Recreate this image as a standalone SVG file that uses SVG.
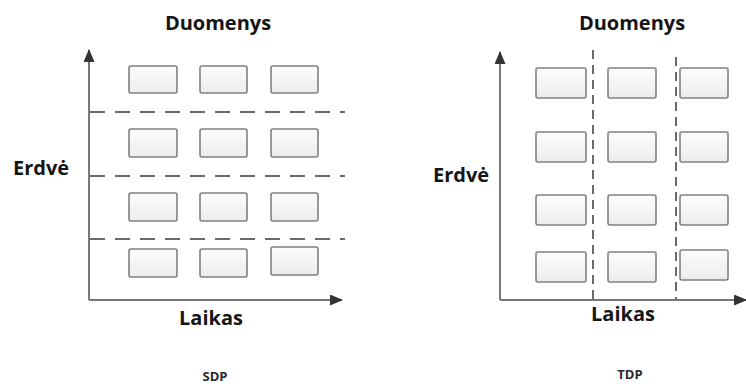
<svg xmlns="http://www.w3.org/2000/svg" width="746" height="386" viewBox="0 0 746 386">
  <defs>
    <linearGradient id="boxFill" x1="0" y1="0" x2="0" y2="1">
      <stop offset="0" stop-color="#fdfdfd"/>
      <stop offset="1" stop-color="#ececec"/>
    </linearGradient>
    <marker id="arrow" viewBox="0 0 13 11" refX="12" refY="5.5" markerWidth="13" markerHeight="11" markerUnits="userSpaceOnUse" orient="auto">
      <path d="M0,0 L13,5.5 L0,11 Z" fill="#333"/>
    </marker>
  </defs>
  <style>
    .box { fill: url(#boxFill); stroke: #808080; stroke-width: 1.6; }
    .axis { stroke: #777; stroke-width: 2; fill: none; }
    .hdash { stroke: #6a6a6a; stroke-width: 2; stroke-dasharray: 15 10; fill: none; }
    .vdash { stroke: #6a6a6a; stroke-width: 2; stroke-dasharray: 9 6; fill: none; }
    .label { font-family: "Open Sans", "Liberation Sans", sans-serif; font-weight: 700; font-size: 20px; fill: #151515; }
    .caption { font-family: "Open Sans", "Liberation Sans", sans-serif; font-weight: 700; font-size: 13px; fill: #2a2a2a; }
  </style>
  <rect width="746" height="386" fill="#fff"/>

  <!-- SDP: spatial partitioning -->
  <g id="sdp">
    <g id="sdp-axes" class="connectors">
      <line class="axis" x1="89" y1="300" x2="89" y2="50" marker-end="url(#arrow)"/>
      <line class="axis" x1="89" y1="300" x2="342" y2="300" marker-end="url(#arrow)"/>
      <line class="hdash" x1="90" y1="112" x2="345" y2="112"/>
      <line class="hdash" x1="90" y1="176" x2="345" y2="176"/>
      <line class="hdash" x1="90" y1="239" x2="345" y2="239"/>
    </g>
    <g id="sdp-boxes">
      <g id="sdp-r1">
        <rect class="box" x="129" y="66" width="48" height="27" rx="2"/>
        <rect class="box" x="200" y="66" width="47" height="27" rx="2"/>
        <rect class="box" x="271" y="66" width="47" height="27" rx="2"/>
      </g>
      <g id="sdp-r2">
        <rect class="box" x="129" y="129" width="48" height="28" rx="2"/>
        <rect class="box" x="200" y="129" width="47" height="28" rx="2"/>
        <rect class="box" x="271" y="129" width="47" height="28" rx="2"/>
      </g>
      <g id="sdp-r3">
        <rect class="box" x="129" y="193" width="48" height="28" rx="2"/>
        <rect class="box" x="200" y="193" width="47" height="28" rx="2"/>
        <rect class="box" x="271" y="193" width="47" height="28" rx="2"/>
      </g>
      <g id="sdp-r4">
        <rect class="box" x="129" y="249" width="48" height="28" rx="2"/>
        <rect class="box" x="200" y="249" width="47" height="28" rx="2"/>
        <rect class="box" x="271" y="247" width="47" height="28" rx="2"/>
      </g>
    </g>
    <text class="label" x="218" y="30" text-anchor="middle">Duomenys</text>
    <text class="label" x="13" y="175">Erdvė</text>
    <text class="label" x="211" y="325" text-anchor="middle">Laikas</text>
    <text class="caption" x="215" y="381" text-anchor="middle">SDP</text>
  </g>

  <!-- TDP: temporal partitioning -->
  <g id="tdp">
    <g id="tdp-axes" class="connectors">
      <line class="axis" x1="500" y1="300" x2="500" y2="52" marker-end="url(#arrow)"/>
      <line class="axis" x1="500" y1="300" x2="746" y2="300" marker-end="url(#arrow)"/>
      <line class="vdash" x1="593" y1="50" x2="593" y2="300"/>
      <line class="vdash" x1="676" y1="57" x2="676" y2="300"/>
    </g>
    <g id="tdp-boxes">
      <g id="tdp-r1">
        <rect class="box" x="536" y="68" width="50" height="30" rx="2"/>
        <rect class="box" x="608" y="68" width="48" height="30" rx="2"/>
        <rect class="box" x="680" y="68" width="48" height="30" rx="2"/>
      </g>
      <g id="tdp-r2">
        <rect class="box" x="536" y="132" width="50" height="30" rx="2"/>
        <rect class="box" x="608" y="132" width="48" height="30" rx="2"/>
        <rect class="box" x="680" y="132" width="48" height="30" rx="2"/>
      </g>
      <g id="tdp-r3">
        <rect class="box" x="536" y="195" width="50" height="30" rx="2"/>
        <rect class="box" x="608" y="195" width="48" height="30" rx="2"/>
        <rect class="box" x="680" y="195" width="48" height="30" rx="2"/>
      </g>
      <g id="tdp-r4">
        <rect class="box" x="536" y="252" width="50" height="30" rx="2"/>
        <rect class="box" x="608" y="252" width="48" height="30" rx="2"/>
        <rect class="box" x="680" y="250" width="48" height="30" rx="2"/>
      </g>
    </g>
    <text class="label" x="632" y="30" text-anchor="middle">Duomenys</text>
    <text class="label" x="433" y="182">Erdvė</text>
    <text class="label" x="623" y="321" text-anchor="middle">Laikas</text>
    <text class="caption" x="630" y="379" text-anchor="middle">TDP</text>
  </g>
</svg>
